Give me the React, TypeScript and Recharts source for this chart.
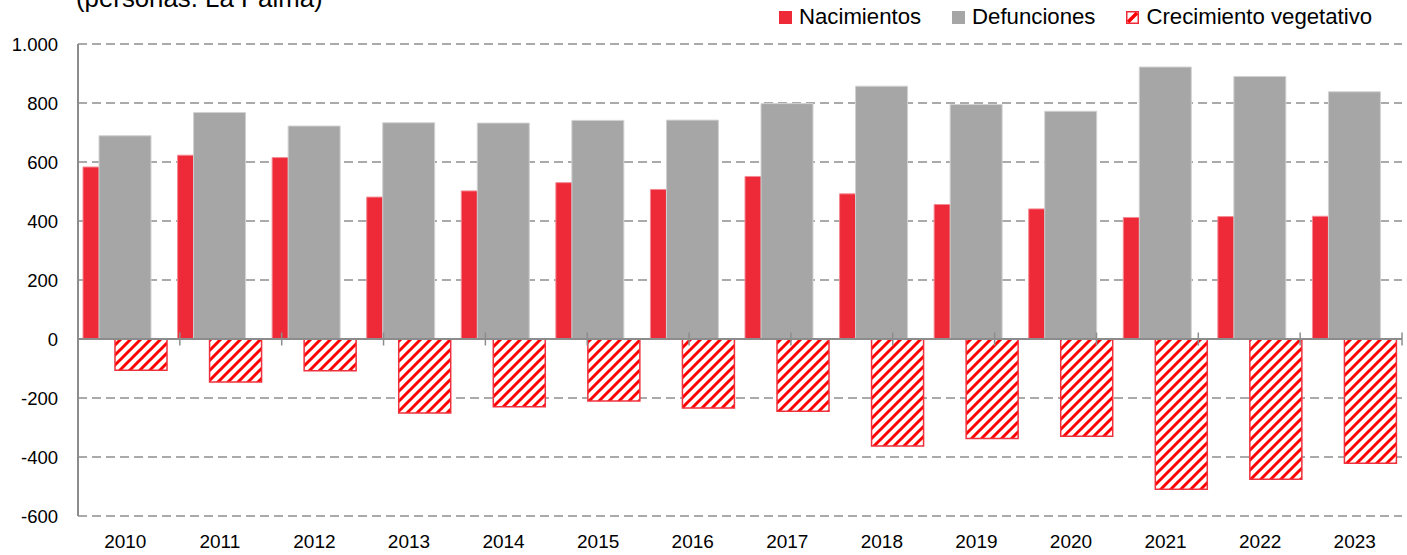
import React from 'react';
import { BarChart, Bar, XAxis, YAxis, CartesianGrid, ReferenceLine } from 'recharts';

const years = ['2010', '2011', '2012', '2013', '2014', '2015', '2016', '2017', '2018', '2019', '2020', '2021', '2022', '2023'];
const nacimientos = [583, 623, 615, 481, 502, 530, 507, 551, 492, 456, 441, 412, 415, 416];
const defunciones = [689, 768, 722, 733, 732, 741, 742, 798, 857, 795, 772, 922, 890, 838];
const crecimiento = [-106, -146, -108, -251, -230, -210, -234, -245, -363, -337, -330, -509, -475, -421];
const yTicks = [-600, -400, -200, 0, 200, 400, 600, 800, 1000];
const categoryBoundaries = [0, 1, 2, 3, 4, 5, 6, 7, 8, 9, 10, 11, 12, 13, 14];

const title = '(personas. La Palma)';
const seriesNames = ['Nacimientos', 'Defunciones', 'Crecimiento vegetativo'];

const data = years.map((year, i) => ({
  year,
  nac: nacimientos[i],
  def: defunciones[i],
  crec: crecimiento[i],
}));

const FONT = '"Liberation Sans", Arial, sans-serif';
const RED = '#EE2A38';
const GRAY = '#A6A6A6';
const AXIS = '#8C8C8C';

const fmt = (v: number) => {
  const s = Math.abs(v).toString().replace(/\B(?=(\d{3})+(?!\d))/g, '.');
  return v < 0 ? '-' + s : s;
};

const Swatch = ({ kind }: { kind: number }) => (
  <svg width={13} height={13} style={{ display: 'block', marginRight: 7 }}>
    {kind === 0 && <rect x={0} y={0} width={13} height={13} fill={RED} />}
    {kind === 1 && <rect x={0} y={0} width={13} height={13} fill={GRAY} />}
    {kind === 2 && (
      <g>
        <rect x={0.75} y={0.75} width={11.5} height={11.5} fill="#fff" stroke={RED} strokeWidth={1.5} />
        <path d="M2,11 L11,2" stroke="#FF0000" strokeWidth={3.5} />
      </g>
    )}
  </svg>
);

export default function App() {
  return (
    <div style={{ position: 'absolute', left: 0, top: 0, width: 1407, height: 555, background: '#fff' }}>
      <svg width={1407} height={40} style={{ position: 'absolute', left: 0, top: 0 }}>
        <defs>
          <pattern id="hatch" patternUnits="userSpaceOnUse" width={10} height={10}>
            <rect x={0} y={0} width={10} height={10} fill="#fff" />
            <path d="M-2.5,2.5 L2.5,-2.5 M0,10 L10,0 M7.5,12.5 L12.5,7.5" stroke="#FF0000" strokeWidth={3} />
          </pattern>
        </defs>
        <text x={76} y={7} fontFamily={FONT} fontSize={25.8} fill="#000">
          {title}
        </text>
      </svg>
      <div
        style={{
          position: 'absolute',
          left: 779,
          top: 4,
          display: 'flex',
          alignItems: 'center',
          fontFamily: FONT,
          fontSize: 22.2,
          lineHeight: '26px',
          color: '#000',
          whiteSpace: 'nowrap',
        }}
      >
        {seriesNames.map((n, i) => (
          <div key={n} style={{ display: 'flex', alignItems: 'center', marginRight: i < 2 ? 31 : 0 }}>
            <Swatch kind={i} />
            <span>{n}</span>
          </div>
        ))}
      </div>
      <BarChart
        width={1407}
        height={555}
        data={data}
        margin={{ top: 44, right: 5, bottom: 0, left: 0 }}
        barSize={52}
        barGap={-36}
      >
        <CartesianGrid vertical={false} stroke="#8F8F8F" strokeWidth={1.5} strokeDasharray="9 5" />
        <XAxis
          dataKey="year"
          axisLine={false}
          tickLine={false}
          interval={0}
          height={39}
          tickMargin={13}
          tick={{ fill: '#000', fontSize: 19, fontFamily: FONT }}
        />
        <XAxis xAxisId="b" type="number" domain={[0, 14]} allowDataOverflow hide />
        <YAxis
          domain={[-600, 1000]}
          ticks={yTicks}
          interval={0}
          allowDataOverflow
          width={78}
          tickLine={false}
          tickMargin={14}
          axisLine={{ stroke: AXIS, strokeWidth: 2 }}
          tickFormatter={fmt}
          tick={{ fill: '#000', fontSize: 18.5, fontFamily: FONT }}
        />
        <Bar dataKey="nac" name={seriesNames[0]} fill={RED} stroke="#F48A92" strokeWidth={1} isAnimationActive={false} />
        <Bar dataKey="def" name={seriesNames[1]} fill={GRAY} stroke="#D2D2D2" strokeWidth={1} isAnimationActive={false} />
        <Bar dataKey="crec" name={seriesNames[2]} fill="url(#hatch)" stroke="#F0303C" strokeWidth={1.5} isAnimationActive={false} />
        <ReferenceLine y={0} stroke={AXIS} strokeWidth={2} />
        {categoryBoundaries.map((b) => (
          <ReferenceLine
            key={b}
            xAxisId="b"
            segment={[{ x: b, y: -22 }, { x: b, y: 22 }]}
            stroke={AXIS}
            strokeWidth={1.5}
          />
        ))}
      </BarChart>
    </div>
  );
}
